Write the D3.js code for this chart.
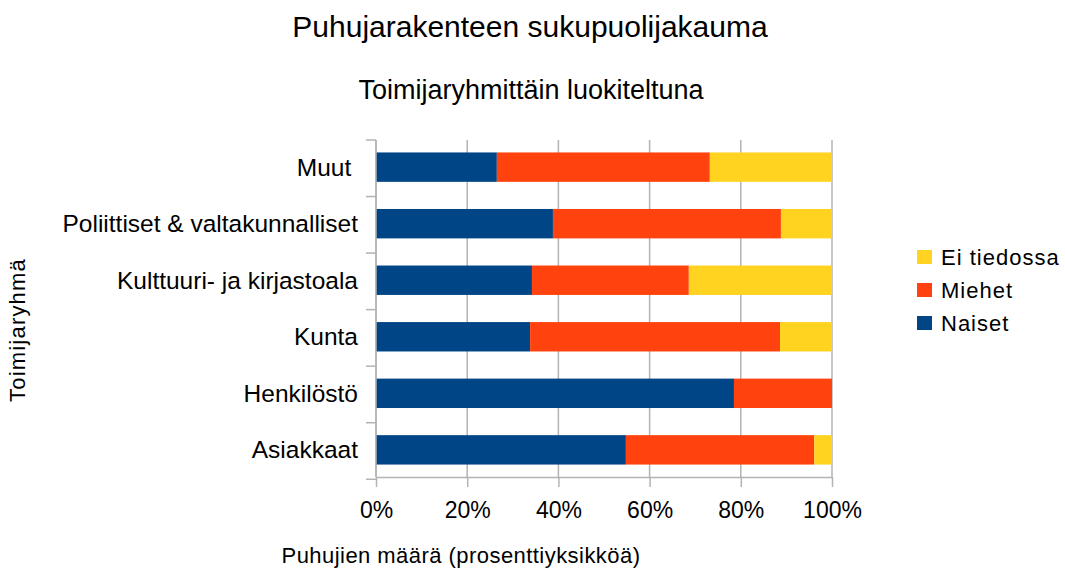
<!DOCTYPE html>
<html lang="fi">
<head>
<meta charset="UTF-8">
<title>Puhujarakenteen sukupuolijakauma</title>
<script src="https://d3js.org/d3.v7.min.js"></script>
<style>
    body { margin: 0; background: #fff; }
    svg { font-family: "Liberation Sans", Arial, sans-serif; }
    .grid line { stroke: #b3b3b3; }
    .axis path, .axis line { stroke: #b3b3b3; }
    .axis text { fill: #000; }
</style>
</head>
<body>
<div id="chart"></div>
<script>
// categories from top to bottom
const categories = ["Muut", "Poliittiset & valtakunnalliset", "Kulttuuri- ja kirjastoala", "Kunta", "Henkilöstö", "Asiakkaat"];
const catLabels = ["Muut ", "Poliittiset & valtakunnalliset", "Kulttuuri- ja kirjastoala", "Kunta", "Henkilöstö", "Asiakkaat"];
const naiset = [26.5, 38.8, 34.2, 33.8, 78.5, 54.8];
const miehet = [46.7, 50.0, 34.4, 54.8, 21.5, 41.3];
const eiTiedossa = [26.8, 11.2, 31.4, 11.4, 0, 3.9];
const xTicks = [0, 20, 40, 60, 80, 100];

const seriesNames = ["Naiset", "Miehet", "Ei tiedossa"];
const colors = { "Naiset": "#004586", "Miehet": "#ff420e", "Ei tiedossa": "#ffd320" };

const width = 1065, height = 571;
const plot = { left: 376, right: 832, top: 140, bottom: 477 };

const svg = d3.select("#chart").append("svg")
    .attr("width", width)
    .attr("height", height);

const x = d3.scaleLinear().domain([0, 100]).range([plot.left, plot.right]);
const y = d3.scaleBand().domain(categories).range([plot.top, plot.bottom]).paddingInner(0.48).paddingOuter(0.22);

// vertical gridlines
svg.append("g").attr("class", "grid")
    .selectAll("line")
    .data(xTicks)
    .enter().append("line")
    .attr("x1", d => x(d)).attr("x2", d => x(d))
    .attr("y1", plot.top).attr("y2", plot.bottom)
    .attr("stroke-width", 1.5);

// stacked bars
const rows = categories.map((c, i) => ({ cat: c, "Naiset": naiset[i], "Miehet": miehet[i], "Ei tiedossa": eiTiedossa[i] }));
const stack = d3.stack().keys(seriesNames)(rows);

svg.append("g")
    .selectAll("g")
    .data(stack)
    .enter().append("g")
    .attr("fill", d => colors[d.key])
    .selectAll("rect")
    .data(d => d)
    .enter().append("rect")
    .attr("x", d => x(d[0]))
    .attr("width", d => x(d[1]) - x(d[0]))
    .attr("y", d => y(d.data.cat))
    .attr("height", y.bandwidth());

// x axis
const xAxis = svg.append("g").attr("class", "axis")
    .attr("transform", `translate(0,${plot.bottom})`)
    .call(d3.axisBottom(x).tickValues(xTicks).tickFormat(d => d + "%").tickSize(10).tickSizeOuter(0));
xAxis.selectAll("text").attr("y", 41).attr("dy", null).style("font-size", "23px");
xAxis.select(".domain").attr("stroke-width", 1.5);
xAxis.selectAll("line").attr("stroke-width", 1.5);

// y axis: ticks at band boundaries
const bandEdges = d3.range(categories.length + 1).map(i => plot.top + i * y.step());
const yAx = svg.append("g").attr("class", "axis");
yAx.append("line")
    .attr("x1", plot.left).attr("x2", plot.left)
    .attr("y1", plot.top).attr("y2", plot.bottom)
    .attr("stroke-width", 1.5);
yAx.selectAll(".tk")
    .data(bandEdges)
    .enter().append("line")
    .attr("class", "tk")
    .attr("x1", plot.left - 10).attr("x2", plot.left)
    .attr("y1", d => d).attr("y2", d => d)
    .attr("stroke-width", 1.5);
yAx.selectAll("text")
    .data(categories)
    .enter().append("text")
    .attr("x", 358)
    .attr("y", d => y(d) + y.bandwidth() / 2)
    .attr("dy", "0.35em")
    .attr("text-anchor", "end")
    .style("font-size", "24.5px")
    .style("white-space", "pre")
    .text((d, i) => catLabels[i]);

// titles
svg.append("text").attr("x", 530).attr("y", 37).attr("text-anchor", "middle")
    .style("font-size", "30px").text("Puhujarakenteen sukupuolijakauma");
svg.append("text").attr("x", 531).attr("y", 99).attr("text-anchor", "middle")
    .style("font-size", "27px").text("Toimijaryhmittäin luokiteltuna");
svg.append("text").attr("x", 461).attr("y", 563).attr("text-anchor", "middle")
    .style("font-size", "22px").style("letter-spacing", "0.45px")
    .text("Puhujien määrä (prosenttiyksikköä)");
svg.append("text").attr("transform", "translate(25,330) rotate(-90)").attr("text-anchor", "middle")
    .style("font-size", "22px").style("letter-spacing", "1.2px").text("Toimijaryhmä");

// legend
const legendOrder = ["Ei tiedossa", "Miehet", "Naiset"];
const legend = svg.append("g").selectAll("g")
    .data(legendOrder)
    .enter().append("g")
    .attr("transform", (d, i) => `translate(917,${250 + i * 33})`);
legend.append("rect").attr("width", 15).attr("height", 14).attr("fill", d => colors[d]);
legend.append("text").attr("x", 24).attr("y", 14.5)
    .style("font-size", "22px").style("letter-spacing", "1px").text(d => d);
</script>
</body>
</html>
